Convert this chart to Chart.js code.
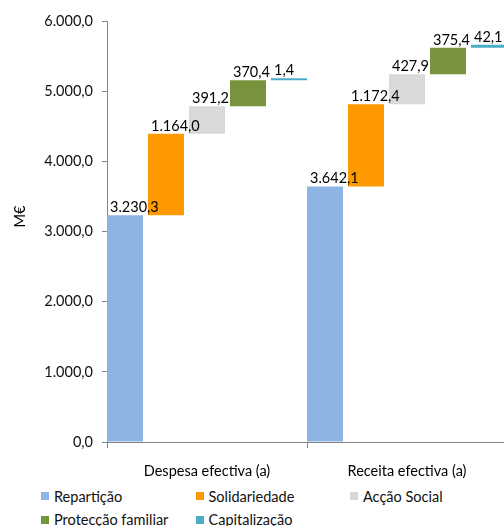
<!DOCTYPE html>
<html><head><meta charset="utf-8">
<script src="https://cdn.jsdelivr.net/npm/chart.js@4"></script>
<style>
html,body{margin:0;padding:0;overflow:hidden;background:#fff;}
#wrap{position:relative;width:504px;height:526px;overflow:hidden;}
#c{position:absolute;left:0;top:0;}
.leg{position:absolute;display:flex;align-items:center;height:16px;font-family:Lato,sans-serif;font-size:14.5px;color:#111;white-space:nowrap;}
.leg .box{display:inline-block;width:8px;height:8px;margin-right:5px;}
</style>
</head><body>
<div id="wrap"><canvas id="c" width="512" height="488" style="width:512px;height:488px"></canvas></div>
<script>
const categories = ['Despesa efectiva (a)', 'Receita efectiva (a)'];
const seriesNames = ['Repartição', 'Solidariedade', 'Acção Social', 'Protecção familiar', 'Capitalização'];
const reparticao = [3230.3, 3642.1];
const solidariedade = [1164.0, 1172.4];
const accaoSocial = [391.2, 427.9];
const proteccaoFamiliar = [370.4, 375.4];
const capitalizacao = [1.4, 42.1];
const seriesColors = ['#8DB4E2', '#FF9900', '#D9D9D9', '#77933C', '#4BACC6'];
const yAxisMax = 6000;
const yAxisStep = 1000;
const yAxisTitle = 'M€';

const seriesValues = [reparticao, solidariedade, accaoSocial, proteccaoFamiliar, capitalizacao];

function fmt(v){
  const s = v.toFixed(1);
  let [i, d] = s.split('.');
  i = i.replace(/\B(?=(\d{3})+(?!\d))/g, '.');
  return i + ',' + d;
}

// waterfall: each series floats on the running total
const running = categories.map(() => 0);
const datasets = seriesValues.map((vals, si) => {
  const data = vals.map((v, ci) => {
    const start = running[ci];
    running[ci] += v;
    return [start, running[ci]];
  });
  return {
    label: seriesNames[si],
    data,
    backgroundColor: seriesColors[si],
    borderWidth: 0,
    categoryPercentage: 1.025,
    barPercentage: 0.878,
    minBarLength: 2
  };
});

const valueLabels = {
  id: 'valueLabels',
  afterDatasetsDraw(chart){
    const ctx = chart.ctx;
    ctx.save();
    ctx.font = '14.5px Lato';
    ctx.fillStyle = '#000';
    ctx.textAlign = 'left';
    ctx.textBaseline = 'alphabetic';
    chart.data.datasets.forEach((ds, i) => {
      const meta = chart.getDatasetMeta(i);
      meta.data.forEach((bar, j) => {
        const left = bar.x - bar.width / 2;
        const top = Math.min(bar.y, bar.base);
        ctx.fillText(fmt(seriesValues[i][j]), left + 3, top - 3);
      });
    });
    ctx.restore();
  }
};

// y-axis title, drawn slightly above the plot's middle as in the reference
const axisTitle = {
  id: 'axisTitle',
  afterDraw(chart){
    const ctx = chart.ctx;
    const a = chart.chartArea;
    ctx.save();
    ctx.font = '14.5px Lato';
    ctx.fillStyle = '#000';
    ctx.textAlign = 'center';
    ctx.textBaseline = 'middle';
    ctx.translate(20, (a.top + a.bottom) / 2 - 15);
    ctx.rotate(-Math.PI / 2);
    ctx.fillText(yAxisTitle, 0, 0);
    ctx.restore();
  }
};

// HTML legend built from the series arrays
const wrap = document.getElementById('wrap');
seriesNames.forEach((name, i) => {
  const d = document.createElement('div');
  d.className = 'leg';
  d.style.left = (41 + (i % 3) * 154.5) + 'px';
  d.style.top = (488 + Math.floor(i / 3) * 23.5) + 'px';
  const b = document.createElement('span');
  b.className = 'box';
  b.style.background = seriesColors[i];
  d.appendChild(b);
  d.appendChild(document.createTextNode(name));
  wrap.appendChild(d);
});

function build(){
  new Chart(document.getElementById('c'), {
    type: 'bar',
    data: { labels: categories, datasets },
    plugins: [valueLabels, axisTitle],
    options: {
      responsive: false,
      animation: false,
      layout: { padding: { top: 21, right: 5, bottom: 0, left: 0 } },
      plugins: { legend: { display: false }, tooltip: { enabled: false } },
      scales: {
        x: {
          type: 'category',
          offset: true,
          grid: { display: true, offset: true, drawOnChartArea: false, drawTicks: true, tickLength: 6, color: '#868686' },
          border: { display: true, color: '#868686' },
          ticks: { color: '#000', font: { family: 'Lato', size: 14.5 }, padding: 15, maxRotation: 0 },
          afterFit(scale){ scale.height = 488 - 442; }
        },
        y: {
          min: 0, max: yAxisMax,
          ticks: { stepSize: yAxisStep, color: '#111', font: { family: 'Lato', size: 14.5 }, padding: 9, callback: v => fmt(v) },
          grid: { display: true, drawOnChartArea: false, drawTicks: true, tickLength: 5, color: '#868686' },
          border: { display: true, color: '#868686' },
          title: { display: false },
          afterFit(scale){ scale.width = 107; }
        }
      }
    }
  });
}
(document.fonts && document.fonts.load ? Promise.all([document.fonts.load('14px Lato'), document.fonts.load('14.5px Lato')]) : Promise.resolve()).then(build, build);
</script>
</body></html>
